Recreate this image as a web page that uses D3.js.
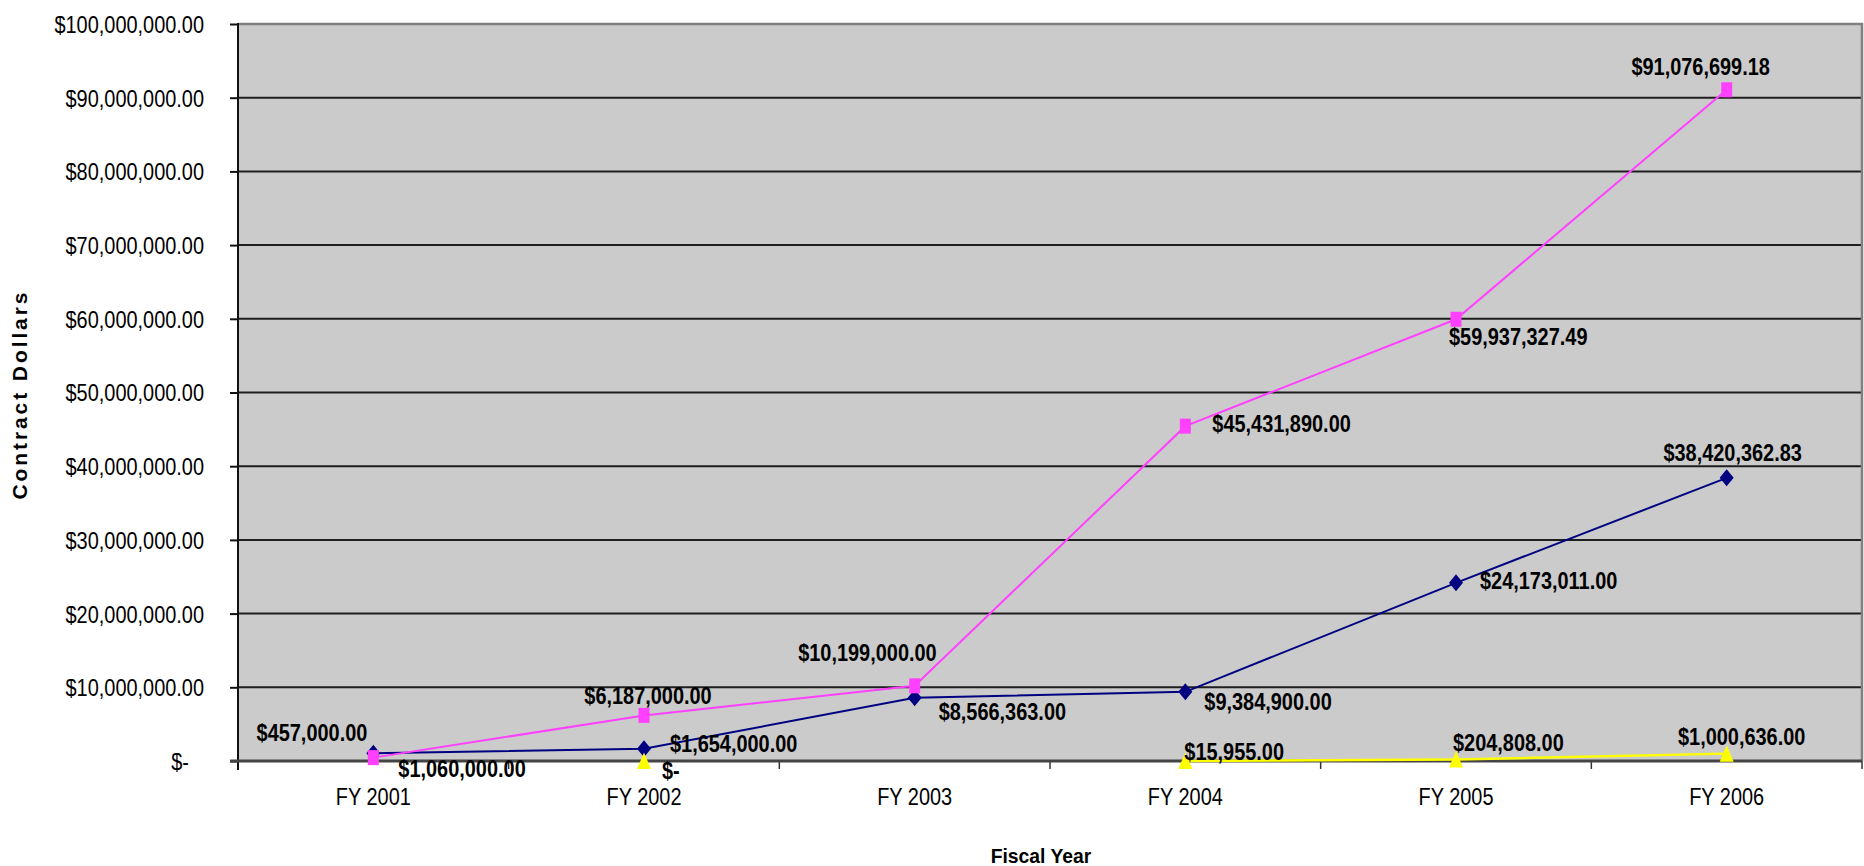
<!DOCTYPE html>
<html>
<head>
<meta charset="utf-8">
<script src="https://cdn.jsdelivr.net/npm/d3@7"></script>
<style>
  html, body { margin: 0; padding: 0; background: #fff; }
  svg { display: block; font-family: "Liberation Sans", Arial, sans-serif; }
</style>
</head>
<body>
<div id="chart"></div>
<script>
// --- Data ---
const years = ["FY 2001", "FY 2002", "FY 2003", "FY 2004", "FY 2005", "FY 2006"];
const pinkValues = [457000, 6187000, 10199000, 45431890, 59937327.49, 91076699.18];
const blueValues = [1060000, 1654000, 8566363, 9384900, 24173011, 38420362.83];
const yellowValues = [null, 0, null, 15955, 204808, 1000636];
const yTicks = [0, 10e6, 20e6, 30e6, 40e6, 50e6, 60e6, 70e6, 80e6, 90e6, 100e6];

// label placement per point: [anchor, dx, dy]
const pinkLabelPos = [["end", -6, -25], ["middle", 4, -20], ["end", 22, -33],
                      ["start", 27, -3], ["start", -7, 17], ["middle", -26, -23]];
const blueLabelPos = [["start", 25, 15], ["start", 26, -5], ["start", 24, 14],
                      ["start", 19, 10], ["start", 24, -2], ["middle", 6, -25]];
const yellowLabelPos = [null, ["start", 18, 10], null,
                        ["start", -1, -9], ["start", -3, -17], ["middle", 15, -17]];

const W = 1864, H = 866;
const plot = { left: 238, right: 1862, top: 24, bottom: 761 };

const svg = d3.select("#chart").append("svg")
  .attr("width", W)
  .attr("height", H);

const x = d3.scaleBand()
  .domain(years)
  .range([plot.left, plot.right]);

const y = d3.scaleLinear()
  .domain([0, 100e6])
  .range([plot.bottom, plot.top]);

const money = v => v === 0 ? "$-" : d3.format("$,.2f")(v);
const cx = d => x(d) + x.bandwidth() / 2;

// plot area background
svg.append("rect")
  .attr("x", plot.left)
  .attr("y", plot.top)
  .attr("width", plot.right - plot.left)
  .attr("height", plot.bottom - plot.top)
  .attr("fill", "#cbcbcb");

// gridlines
svg.append("g")
  .selectAll("line")
  .data(yTicks.filter(t => t > 0 && t < 100e6))
  .enter()
  .append("line")
  .attr("x1", plot.left)
  .attr("x2", plot.right)
  .attr("y1", d => y(d))
  .attr("y2", d => y(d))
  .attr("stroke", "#1e1e1e")
  .attr("stroke-width", 2);

// frame: top + right in gray
svg.append("path")
  .attr("d", `M${plot.left},${plot.top}H${plot.right}V${plot.bottom}`)
  .attr("fill", "none")
  .attr("stroke", "#808080")
  .attr("stroke-width", 2.5);

// y axis
const yAxis = svg.append("g")
  .attr("transform", `translate(${plot.left},0)`)
  .call(d3.axisLeft(y).tickValues(yTicks).tickSize(8).tickPadding(26).tickFormat(money));
yAxis.select(".domain").remove();
yAxis.selectAll(".tick line").attr("stroke", "#111").attr("stroke-width", 2);
yAxis.selectAll(".tick text")
  .attr("class", "narrow")
  .attr("fill", "#000")
  .style("font-size", "24px")
  .attr("dy", "0.35em")
  .attr("x", d => d === 0 ? -49 : -34);

svg.append("line")
  .attr("x1", plot.left).attr("x2", plot.left)
  .attr("y1", plot.top - 1).attr("y2", plot.bottom + 9)
  .attr("stroke", "#111")
  .attr("stroke-width", 2);

// x axis
const xAxis = svg.append("g")
  .attr("transform", `translate(0,${plot.bottom})`)
  .call(d3.axisBottom(x).tickSize(0));
xAxis.select(".domain").remove();
xAxis.selectAll(".tick text")
  .attr("class", "narrow")
  .attr("fill", "#000")
  .style("font-size", "24px")
  .attr("y", 36)
  .attr("dy", "0.35em");

// category boundary ticks
svg.append("g")
  .selectAll("line")
  .data(years.slice(1).concat(["end"]))
  .enter()
  .append("line")
  .attr("x1", d => d === "end" ? plot.right : x(d))
  .attr("x2", d => d === "end" ? plot.right : x(d))
  .attr("y1", plot.bottom)
  .attr("y2", plot.bottom + 8)
  .attr("stroke", "#333")
  .attr("stroke-width", 1.5);

svg.append("line")
  .attr("x1", plot.left - 8).attr("x2", plot.right)
  .attr("y1", plot.bottom).attr("y2", plot.bottom)
  .attr("stroke", "#444")
  .attr("stroke-width", 3);

// axis titles
svg.append("text")
  .attr("transform", "translate(27,396) rotate(-90)")
  .attr("text-anchor", "middle")
  .attr("textLength", 207)
  .attr("lengthAdjust", "spacing")
  .style("font-size", "21px")
  .style("font-weight", "bold")
  .text("Contract  Dollars");

svg.append("text")
  .attr("class", "narrow wide")
  .attr("x", 1041)
  .attr("y", 856)
  .attr("dy", "0.35em")
  .attr("text-anchor", "middle")
  .style("font-size", "21px")
  .style("font-weight", "bold")
  .text("Fiscal Year");

// --- series ---
const series = [
  { values: blueValues, color: "#000080", width: 2, marker: "diamond", labels: blueLabelPos },
  { values: pinkValues, color: "#ff40ff", width: 2, marker: "square", labels: pinkLabelPos },
  { values: yellowValues, color: "#ffff00", width: 2.5, marker: "triangle", labels: yellowLabelPos }
];

const line = d3.line()
  .defined(d => d[1] !== null)
  .x(d => cx(d[0]))
  .y(d => y(d[1]));

const markerPath = {
  diamond: "M0,-8.5L7,0L0,8.5L-7,0Z",
  square: "M-5.5,-7.5H5.5V7.5H-5.5Z",
  triangle: "M0,-8.5L7,8H-7Z"
};

series.forEach(s => {
  const pts = years.map((yr, i) => [yr, s.values[i], s.labels[i]]);

  svg.append("path")
    .datum(pts)
    .attr("d", line)
    .attr("fill", "none")
    .attr("stroke", s.color)
    .attr("stroke-width", s.width);

  svg.append("g")
    .selectAll("path")
    .data(pts.filter(d => d[1] !== null))
    .enter()
    .append("path")
    .attr("d", markerPath[s.marker])
    .attr("transform", d => `translate(${cx(d[0])},${y(d[1])})`)
    .attr("fill", s.color);
});

// data labels on top
series.forEach(s => {
  const pts = years.map((yr, i) => [yr, s.values[i], s.labels[i]]);
  svg.append("g")
    .selectAll("text")
    .data(pts.filter(d => d[1] !== null))
    .enter()
    .append("text")
    .attr("class", "narrow")
    .attr("x", d => cx(d[0]) + d[2][1])
    .attr("y", d => y(d[1]) + d[2][2])
    .attr("dy", "0.35em")
    .attr("text-anchor", d => d[2][0])
    .style("font-size", "24px")
    .style("font-weight", "bold")
    .attr("fill", "#000")
    .text(d => money(d[1]));
});

// squeeze narrow text horizontally to mimic the condensed face
svg.selectAll("text.narrow").each(function () {
  const factor = this.classList.contains("wide") ? 0.92 : 0.83;
  const len = this.getComputedTextLength();
  d3.select(this)
    .attr("textLength", len * factor)
    .attr("lengthAdjust", "spacingAndGlyphs");
});
</script>
</body>
</html>
